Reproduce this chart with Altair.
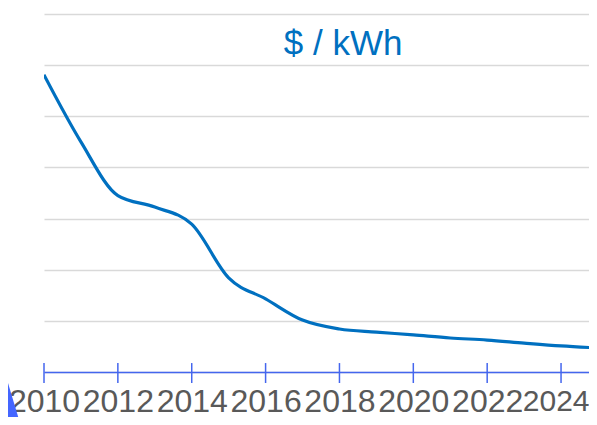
import altair as alt
import pandas as pd

years = list(range(2010, 2026))
values = [1162, 900, 690, 645, 578, 368, 286, 203, 168, 156, 145, 133, 125, 113, 102, 94]
tick_years = [2010, 2012, 2014, 2016, 2018, 2020, 2022, 2024]
grid_values = [0, 200, 400, 600, 800, 1000, 1200, 1400]
title_text = ["$ / kWh"]

df = pd.DataFrame({"year": years, "value": values})
ticks_df = pd.DataFrame({"year": tick_years, "lo": [-43] * len(tick_years), "hi": [35] * len(tick_years)})
title_df = pd.DataFrame({"year": [2018.1], "value": [1240], "label": title_text})
tri_df = pd.DataFrame({"year": [2008.95], "value": [-120]})

AXIS_BLUE = "#4466ee"
LINE_BLUE = "#0070c0"

xscale = alt.Scale(domain=[2010, 2024.757], nice=False, zero=False)
yscale = alt.Scale(domain=[0, 1400], nice=False)

line = alt.Chart(df).mark_line(
    color=LINE_BLUE, strokeWidth=3.2, interpolate="monotone", clip=True
).encode(
    x=alt.X("year:Q", scale=xscale, axis=alt.Axis(
        values=tick_years, format="d", title=None, grid=False, ticks=False, tickSize=0,
        domainColor=AXIS_BLUE, domainWidth=1.5, labelFont="Liberation Sans",
        labelFontSize=alt.ExprRef("datum.value == 2024 ? 30 : 32"),
        labelAlign=alt.ExprRef("datum.value == 2024 ? 'right' : 'center'"),
        labelOffset=alt.ExprRef("datum.value == 2024 ? 28 : 0"),
        labelColor="#595959", labelPadding=14, labelFlush=False,
        labelOverlap=False)),
    y=alt.Y("value:Q", scale=yscale, axis=alt.Axis(
        values=grid_values, title=None, labels=False, ticks=False, domain=False,
        grid=True, gridColor="#d9d9d9", gridWidth=1.6)),
)

tick_marks = alt.Chart(ticks_df).mark_rule(color=AXIS_BLUE, strokeWidth=1.5).encode(
    x=alt.X("year:Q", scale=xscale),
    y=alt.Y("lo:Q", scale=yscale),
    y2="hi:Q",
)

title = alt.Chart(title_df).mark_text(
    font="Liberation Sans", fontSize=35, color=LINE_BLUE, align="center", baseline="alphabetic"
).encode(
    x=alt.X("year:Q", scale=xscale),
    y=alt.Y("value:Q", scale=yscale),
    text="label:N",
)

tri = alt.Chart(tri_df).mark_point(
    shape="M0,-1L-0.6,1L0.6,1Z", filled=True, color="#4466ff", opacity=1, size=3364
).encode(
    x=alt.X("year:Q", scale=xscale),
    y=alt.Y("value:Q", scale=yscale),
)

chart = alt.layer(line, tick_marks, title, tri).properties(
    width=545, height=358,
    autosize=alt.AutoSizeParams(type="none"),
    padding={"left": 36, "top": 6, "right": 0, "bottom": 45},
).configure_view(stroke=None)

chart.save("out.html", embed_options={"renderer": "svg", "actions": False})
